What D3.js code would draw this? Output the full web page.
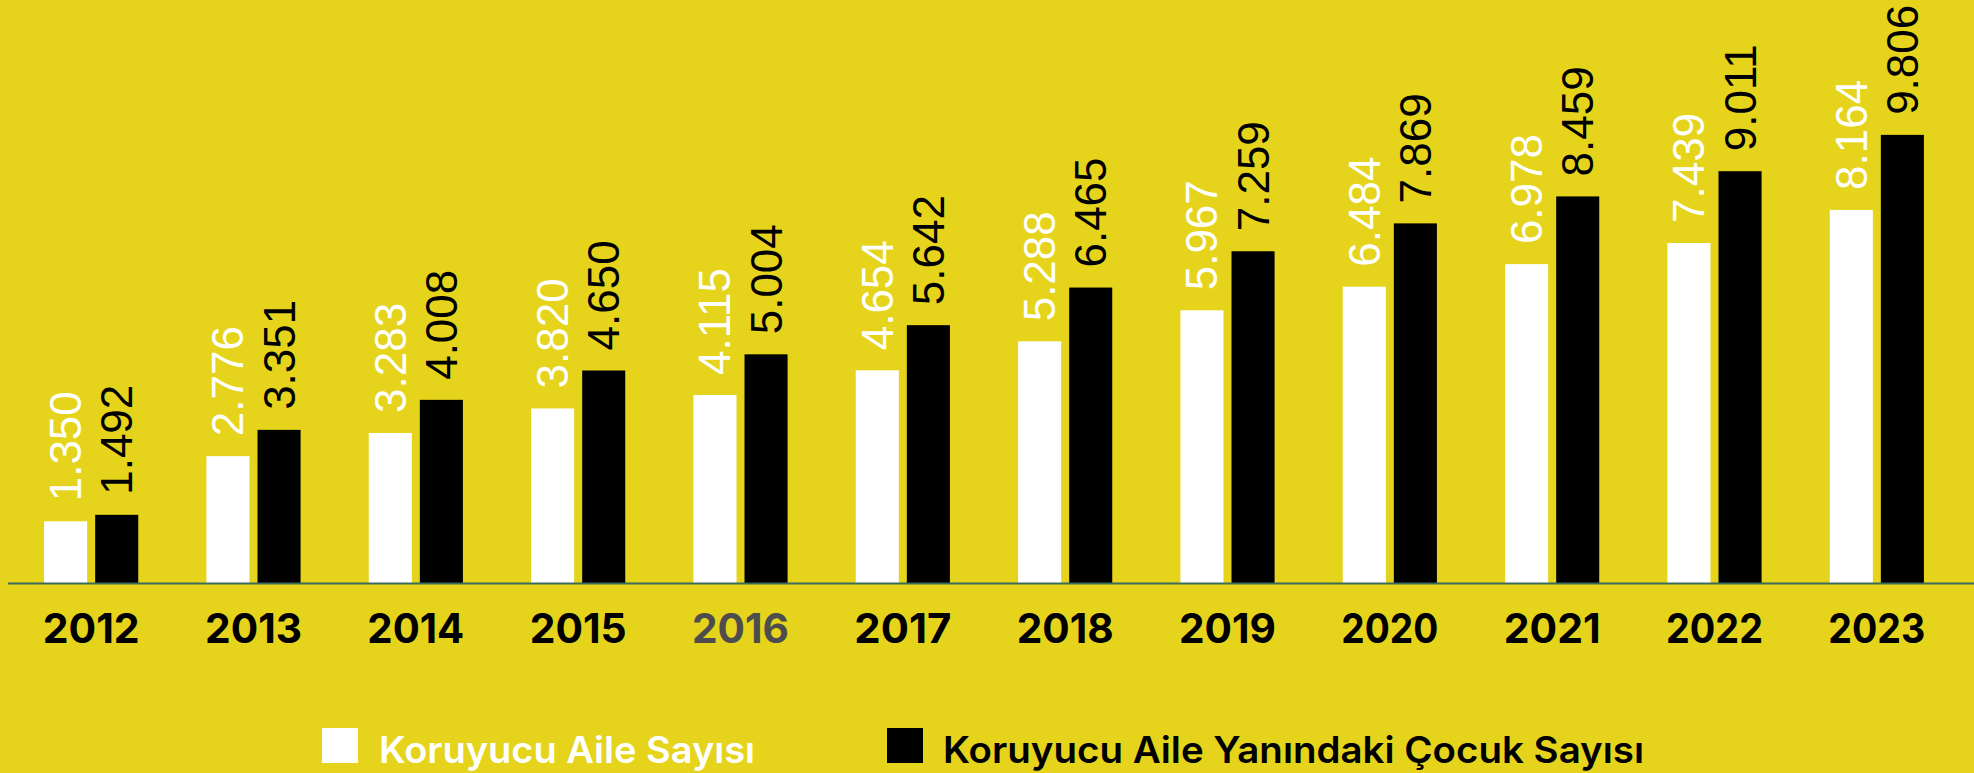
<!DOCTYPE html>
<html>
<head>
  <meta charset="utf-8">
  <script src="https://d3js.org/d3.v7.min.js"></script>
  <style>
    body { margin: 0; background: #e5d41b; }
  </style>
</head>
<body>
<script>
var years = ["2012","2013","2014","2015","2016","2017","2018","2019","2020","2021","2022","2023"];
var aile = [1350, 2776, 3283, 3820, 4115, 4654, 5288, 5967, 6484, 6978, 7439, 8164];
var cocuk = [1492, 3351, 4008, 4650, 5004, 5642, 6465, 7259, 7869, 8459, 9011, 9806];
var seriesNames = ["Koruyucu Aile Sayısı", "Koruyucu Aile Yanındaki Çocuk Sayısı"];
var seriesColors = ["#ffffff", "#000000"];

var W = 1974, H = 773;
var baseY = 583;

var svg = d3.select("body").append("svg")
  .attr("width", W)
  .attr("height", H);

svg.append("rect").attr("width", W).attr("height", H).attr("fill", "#e5d41b");

var x0 = d3.scaleBand()
  .domain(years)
  .range([10, 1958])
  .paddingInner(0.42)
  .paddingOuter(0.21);

var x1 = d3.scaleBand()
  .domain([0, 1])
  .range([0, x0.bandwidth()])
  .paddingInner(0.157);

var y = d3.scaleLinear()
  .domain([0, 10000])
  .range([baseY, 126]);

var data = years.map(function(yr, i) {
  return { year: yr, vals: [aile[i], cocuk[i]] };
});

var fmt = function(v) { return d3.format(",")(v).replace(",", "."); };

var groups = svg.selectAll("g.grp")
  .data(data)
  .enter().append("g")
  .attr("class", "grp")
  .attr("transform", function(d) { return "translate(" + x0(d.year) + ",0)"; });

groups.selectAll("rect")
  .data(function(d) { return d.vals; })
  .enter().append("rect")
  .attr("x", function(d, i) { return x1(i); })
  .attr("y", function(d) { return y(d); })
  .attr("width", x1.bandwidth())
  .attr("height", function(d) { return baseY - y(d); })
  .attr("fill", function(d, i) { return seriesColors[i]; });

groups.selectAll("text.val")
  .data(function(d) { return d.vals; })
  .enter().append("text")
  .attr("class", "val")
  .attr("transform", function(d, i) {
    var cx = x1(i) + x1.bandwidth() / 2 + 15.5;
    return "translate(" + cx + "," + (y(d) - 20) + ") rotate(-90)";
  })
  .style("font-family", "'Liberation Sans', Arial, sans-serif")
  .style("font-size", "44px")
  .attr("fill", function(d, i) { return seriesColors[i]; })
  .text(fmt);

// baseline
svg.append("line")
  .attr("x1", 8).attr("x2", W)
  .attr("y1", baseY + 0.5).attr("y2", baseY + 0.5)
  .attr("stroke", "#3a6b5c")
  .attr("stroke-width", 2);

// year labels
svg.selectAll("text.year")
  .data(years)
  .enter().append("text")
  .attr("class", "year")
  .attr("x", function(d) { return x0(d) + x0.bandwidth() / 2; })
  .attr("y", 643)
  .attr("text-anchor", "middle")
  .style("font-family", "Inter, sans-serif")
  .style("font-weight", 700)
  .style("font-size", "41px")
  .attr("textLength", 97)
  .attr("lengthAdjust", "spacingAndGlyphs")
  .attr("fill", function(d) { return d === "2016" ? "#4d4d4d" : "#000"; })
  .text(function(d) { return d; });

// legend
var legX = [322, 887];
var legW = [376, 701];
var legend = svg.selectAll("g.leg")
  .data(seriesNames)
  .enter().append("g")
  .attr("class", "leg")
  .attr("transform", function(d, i) { return "translate(" + legX[i] + ",728)"; });

legend.append("rect")
  .attr("width", 36).attr("height", 35)
  .attr("fill", function(d, i) { return seriesColors[i]; });

legend.append("text")
  .attr("x", function(d, i) { return i === 0 ? 57 : 56; })
  .attr("y", 35)
  .style("font-family", "Inter, sans-serif")
  .style("font-weight", 600)
  .style("font-size", "37px")
  .attr("textLength", function(d, i) { return legW[i]; })
  .attr("lengthAdjust", "spacingAndGlyphs")
  .attr("fill", function(d, i) { return seriesColors[i]; })
  .text(function(d) { return d; });
</script>
</body>
</html>
